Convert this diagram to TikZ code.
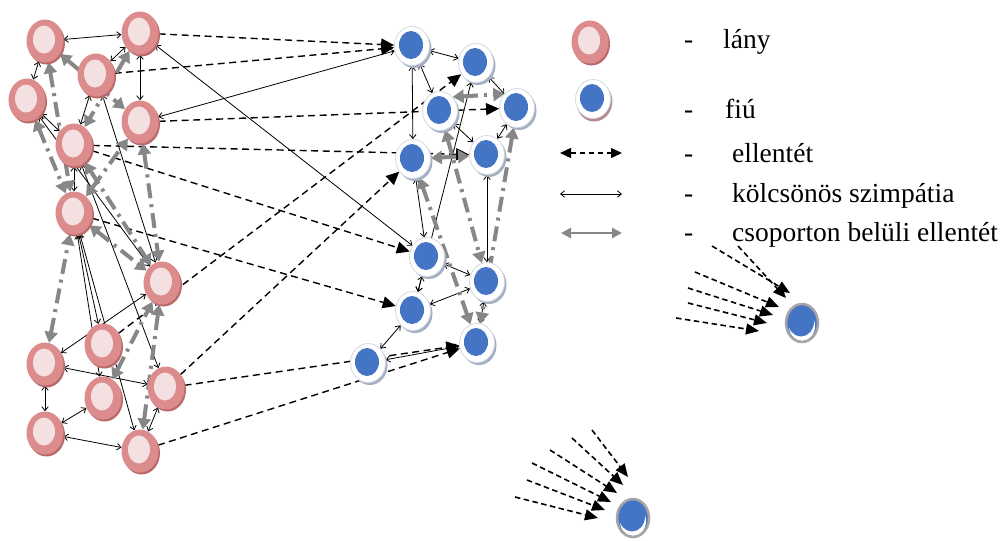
\documentclass[tikz,border=0pt]{standalone}
\usepackage{fontspec}
\setmainfont{Liberation Serif}
\usetikzlibrary{shapes.geometric,arrows.meta,shadows}
\definecolor{girlring}{RGB}{220,140,140}
\definecolor{girlshade}{RGB}{186,106,106}
\definecolor{girlcore}{RGB}{244,224,224}
\definecolor{boyblue}{RGB}{68,116,196}
\definecolor{boyrim}{RGB}{210,218,230}
\definecolor{boyshade}{RGB}{165,175,192}
\definecolor{keyshade}{RGB}{184,136,136}
\definecolor{ingrey}{RGB}{135,135,135}
\pgfdeclarelayer{paper}
\pgfdeclarelayer{wires}
\pgfsetlayers{paper,wires,main}
\begin{document}
\begin{tikzpicture}[x=1pt,y=-1pt,
  girl/.style={ellipse, minimum width=37pt, minimum height=43pt, inner sep=0pt,
    fill=girlring,
    drop shadow={shadow xshift=1.5pt, shadow yshift=-2pt, fill=girlshade, opacity=1},
    path picture={\fill[girlcore] ([xshift=-1pt,yshift=1.5pt]path picture bounding box.center)
      ellipse [x radius=11pt, y radius=14pt];}},
  boy/.style={ellipse, minimum width=35pt, minimum height=39pt, inner sep=0pt,
    fill=white, draw=boyrim, line width=0.8pt,
    drop shadow={shadow xshift=2pt, shadow yshift=-2.5pt, fill=boyshade, opacity=1},
    path picture={\fill[boyblue] ([xshift=-1pt,yshift=1pt]path picture bounding box.center)
      ellipse [x radius=12pt, y radius=14pt];}},
  keyboy/.style={boy, drop shadow={shadow xshift=1pt, shadow yshift=-3pt, fill=keyshade, opacity=1}},
  loner/.style={ellipse, minimum width=32pt, minimum height=38pt, inner sep=0pt,
    fill=boyblue, draw=gray!70, line width=2.5pt,
    path picture={
      \fill[white] ([yshift=-3pt]path picture bounding box.center) ellipse [x radius=13pt, y radius=15pt];
      \fill[boyblue] ([xshift=-1pt,yshift=1.5pt]path picture bounding box.center) ellipse [x radius=13pt, y radius=15pt];}},
  sym/.style={draw=black, line width=0.8pt,
    arrows={Straight Barb[length=4pt,width=6.5pt]-Straight Barb[length=4pt,width=6.5pt]}},
  anti/.style={draw=black, line width=1.4pt, dash pattern=on 7pt off 4.5pt,
    -{Triangle[length=13pt,width=12pt]}},
  ingroup/.style={draw=ingrey, line width=4pt, dash pattern=on 15pt off 6pt on 3pt off 6pt,
    arrows={Triangle[length=11pt,width=13pt]-Triangle[length=11pt,width=13pt]}},
  fanline/.style={draw=black, line width=1.6pt, dash pattern=on 5.5pt off 3.5pt,
    -{Triangle[length=13pt,width=11pt]}},
  keytext/.style={anchor=base west, inner sep=0pt, font=\fontsize{27.5}{30}\selectfont}
]
\useasboundingbox (0,0) rectangle (1002,541);
\begin{pgfonlayer}{paper}
  \fill[white] (0,0) rectangle (1002,541);
\end{pgfonlayer}

% girls
\node[girl] (g1)  at (45,41)  {};
\node[girl] (g2)  at (140,33) {};
\node[girl] (g3)  at (96,75)  {};
\node[girl] (g4)  at (27,100) {};
\node[girl] (g5)  at (140,122) {};
\node[girl] (g6)  at (74,145) {};
\node[girl] (g7)  at (74,213) {};
\node[girl] (g8)  at (162,283) {};
\node[girl] (g9)  at (103,345) {};
\node[girl] (g10) at (45,364) {};
\node[girl] (g11) at (103,398) {};
\node[girl] (g12) at (166,388) {};
\node[girl] (g13) at (45,433) {};
\node[girl] (g14) at (140,451) {};

% boys
\node[boy] (b1)  at (412,46)  {};
\node[boy] (b2)  at (476,63)  {};
\node[boy] (b3)  at (440,111) {};
\node[boy] (b4)  at (517,108) {};
\node[boy] (b5)  at (413,159) {};
\node[boy] (b6)  at (487,155) {};
\node[boy] (b7)  at (427,257) {};
\node[boy] (b8)  at (487,282) {};
\node[boy] (b9)  at (413,311) {};
\node[boy] (b10) at (368,363) {};
\node[boy] (b11) at (477,343) {};

% isolated boys
\node[loner] (lone1) at (802,323) {};
\node[loner] (lone2) at (633,518) {};

\begin{pgfonlayer}{wires}
  % mutual sympathy
  \foreach \a/\b in {g1/g2, g2/g3, g1/g4, g2/g5, g3/g6, g4/g6, g6/g7, g4/g8, g3/g8,
      g6/g12, g7/g9, g7/g11, g7/g14, g8/g10, g10/g12, g10/g13, g11/g13, g13/g14,
      g12/g14, g2/b7, b1/g5,
      b1/b2, b1/b3, b2/b4, b3/b6, b4/b6, b5/b1, b7/b5, b9/b2, b6/b8, b7/b8,
      b8/b9, b9/b10, b8/b11, b11/b10, b9/b7}
    \draw[sym] (\a) -- (\b);
  % antagonism between the groups
  \foreach \a/\b in {g2/b1, g3/b1, g5/b4, g6/b6, g6/b7, g7/b9, g9/b2, g12/b5,
      g12/b11, g14/b11}
    \draw[anti] (\a) -- (\b);
  % antagonism inside a group
  \foreach \a/\b in {g1/g5, g1/g7, g4/g7, g2/g6, g7/g5, g6/g8, g5/g8, g7/g8,
      g10/g7, g14/g8, g11/g8, b3/b8, b5/b11, b5/b6, b4/b11}
    \draw[ingroup] (\a) -- (\b);
  \draw[ingroup] (b3.north east) -- (b4.north west);
  % rejections of the isolated boys
  \foreach [count=\i] \sx/\sy/\ex/\ey in {712/246/790/293, 738/246/786/298,
      695/272/779/307, 688/288/773/315, 688/303/767/323, 676/318/759/331}
  {
    \coordinate (fa\i) at (\sx,\sy);
    \coordinate (fz\i) at (\ex,\ey);
    \draw[fanline] (fa\i) -- (fz\i);
  }
  \foreach [count=\i] \sx/\sy/\ex/\ey in {592/430/628/477, 572/438/623/485,
      550/450/617/493, 532/463/611/502, 527/480/605/510, 515/497/598/518}
  {
    \coordinate (fb\i) at (\sx,\sy);
    \coordinate (fc\i) at (\ex,\ey);
    \draw[fanline] (fb\i) -- (fc\i);
  }
\end{pgfonlayer}

% key
\node[girl] (keygirl) at (590,42) {};
\node[keyboy] (keyboy) at (593,99) {};
\coordinate (ka1) at (560,153); \coordinate (kb1) at (622,153);
\coordinate (ka2) at (560,194); \coordinate (kb2) at (622,194);
\coordinate (ka3) at (561,233); \coordinate (kb3) at (622,233);
\draw[draw=black, line width=1.3pt, dash pattern=on 5pt off 4pt,
  arrows={Triangle[length=11pt,width=10pt]-Triangle[length=11pt,width=10pt]}] (ka1) -- (kb1);
\draw[sym] (ka2) -- (kb2);
\draw[draw=ingrey, line width=2.5pt,
  arrows={Triangle[length=10pt,width=10pt]-Triangle[length=10pt,width=10pt]}] (ka3) -- (kb3);

\node[keytext] (d1) at (684,48) {-};
\node[keytext] (t1) at (723,48) {lány};
\node[keytext] (d2) at (684,118) {-};
\node[keytext] (t2) at (725,118) {fiú};
\node[keytext] (d3) at (684,162) {-};
\node[keytext] (t3) at (732,162) {ellentét};
\node[keytext] (d4) at (684,202) {-};
\node[keytext] (t4) at (732,202) {kölcsönös szimpátia};
\node[keytext] (d5) at (684,241) {-};
\node[keytext] (t5) at (732,241) {csoporton belüli ellentét};
\end{tikzpicture}
\end{document}
